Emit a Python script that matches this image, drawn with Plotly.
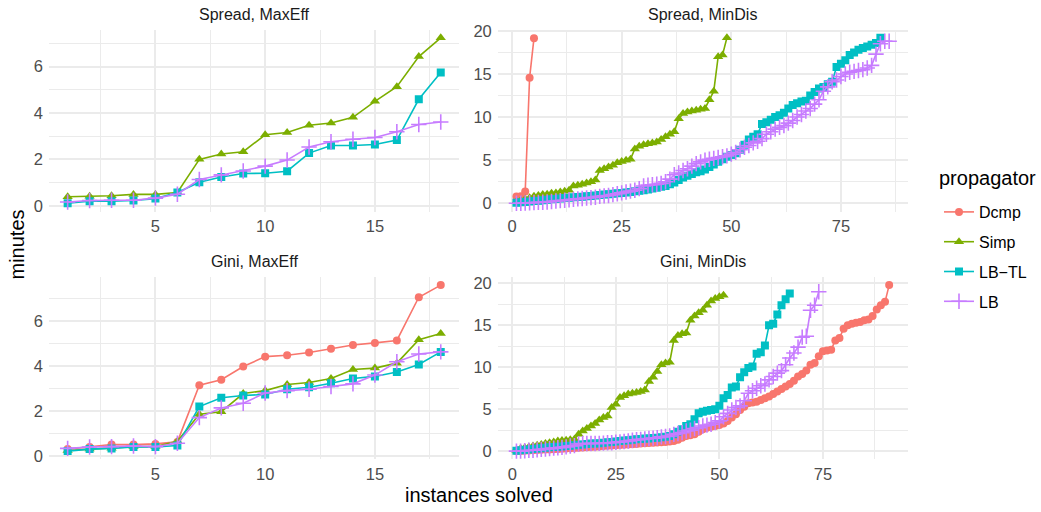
import plotly.graph_objects as go

# ---------------- data ----------------
propagators = ["Dcmp", "Simp", "LB−TL", "LB"]
colors = {"Dcmp": "#F8766D", "Simp": "#7CAE00", "LB−TL": "#00BFC4", "LB": "#C77CFF"}
symbols = {"Dcmp": "circle", "Simp": "triangle-up", "LB−TL": "square", "LB": "cross-thin"}
msizes = {"Dcmp": 8, "Simp": 9, "LB−TL": 8, "LB": 11}

panel_titles = ["Spread, MaxEff", "Spread, MinDis", "Gini, MaxEff", "Gini, MinDis"]

# Spread, MaxEff
spread_maxeff_simp = [0.39, 0.41, 0.43, 0.49, 0.49, 0.57, 2.0, 2.23, 2.33, 3.06, 3.16, 3.47, 3.57, 3.81, 4.5, 5.13, 6.43, 7.24]
spread_maxeff_lbtl = [0.11, 0.2, 0.2, 0.23, 0.31, 0.57, 1.01, 1.24, 1.39, 1.4, 1.49, 2.27, 2.6, 2.6, 2.64, 2.83, 4.59, 5.74]
spread_maxeff_lb = [0.16, 0.23, 0.24, 0.24, 0.33, 0.5, 1.13, 1.33, 1.5, 1.71, 1.97, 2.53, 2.76, 2.87, 2.94, 3.19, 3.5, 3.61]

# Gini, MaxEff
gini_maxeff_dcmp = [0.3, 0.39, 0.5, 0.5, 0.53, 0.62, 3.14, 3.38, 3.97, 4.41, 4.47, 4.59, 4.76, 4.93, 5.02, 5.13, 7.05, 7.59]
gini_maxeff_simp = [0.24, 0.3, 0.34, 0.41, 0.41, 0.65, 1.85, 1.96, 2.77, 2.9, 3.17, 3.26, 3.44, 3.84, 3.9, 4.12, 5.16, 5.44]
gini_maxeff_lbtl = [0.21, 0.3, 0.33, 0.39, 0.39, 0.46, 2.19, 2.58, 2.68, 2.73, 2.96, 3.05, 3.23, 3.44, 3.53, 3.73, 4.06, 4.62]
gini_maxeff_lb = [0.33, 0.39, 0.41, 0.44, 0.41, 0.56, 1.7, 2.13, 2.34, 2.79, 2.9, 2.96, 3.08, 3.2, 3.59, 4.18, 4.53, 4.62]

# Spread, MinDis
spread_mindis_dcmp = [0.77, 0.8, 1.35, 14.55, 19.15]
spread_mindis_simp = [0.2, 0.35, 0.5, 0.65, 0.8, 0.9, 1.0, 1.05, 1.15, 1.2,
                      1.3, 1.4, 1.5, 2.0, 2.1, 2.2, 2.35, 2.5, 2.7, 3.8,
                      4.0, 4.2, 4.4, 4.7, 4.85, 5.0, 5.1, 6.3, 6.6, 6.8,
                      6.9, 7.0, 7.1, 7.4, 7.7, 8.0, 8.3, 9.8, 10.4, 10.6,
                      10.7, 10.8, 10.9, 11.0, 12.0, 13.0, 17.0, 17.2, 19.2]
spread_mindis_lbtl = [0.05, 0.1, 0.15, 0.2, 0.25, 0.3, 0.35, 0.4, 0.45, 0.5,
                      0.55, 0.6, 0.65, 0.7, 0.72, 0.75, 0.8, 0.85, 0.9, 0.95,
                      1.0, 1.05, 1.1, 1.15, 1.2, 1.25, 1.3, 1.4, 1.45, 1.5,
                      1.6, 1.7, 1.8, 1.9, 2.0, 2.2, 2.4, 2.7, 3.0, 3.2,
                      3.4, 3.6, 3.7, 3.9, 4.2, 4.5, 4.8, 5.1, 5.4, 5.6,
                      5.8, 6.2, 6.8, 7.4, 7.7, 8.0, 9.2, 9.4, 9.7, 10.0,
                      10.2, 10.5, 11.0, 11.4, 11.6, 11.8, 11.9, 12.5, 12.9, 13.3,
                      13.5, 13.8, 14.1, 15.8, 16.2, 16.6, 17.2, 17.5, 17.8, 18.0,
                      18.2, 18.4, 18.6, 19.2]
spread_mindis_lb = [0.0, 0.0, 0.02, 0.05, 0.08, 0.1, 0.12, 0.15, 0.2, 0.25,
                    0.3, 0.35, 0.4, 0.45, 0.5, 0.55, 0.6, 0.65, 0.7, 0.8,
                    0.85, 0.9, 1.0, 1.1, 1.2, 1.3, 1.4, 1.5, 1.7, 2.0,
                    2.1, 2.15, 2.2, 2.3, 2.5, 2.8, 3.3, 3.5, 3.8, 4.0,
                    4.3, 4.6, 4.8, 5.0, 5.1, 5.2, 5.3, 5.4, 5.5, 5.7,
                    5.9, 6.2, 6.5, 6.7, 7.0, 7.2, 7.5, 8.0, 8.3, 8.6,
                    8.8, 9.0, 9.3, 9.6, 10.0, 10.3, 10.7, 11.0, 11.5, 12.0,
                    13.0, 13.5, 14.1, 14.3, 14.7, 15.0, 15.2, 15.3, 15.4, 15.5,
                    15.7, 16.0, 17.3, 18.5, 18.8, 18.8]

# Gini, MinDis
gini_mindis_dcmp = [0.0, 0.02, 0.05, 0.07, 0.1, 0.12, 0.15, 0.18, 0.2, 0.22,
                    0.25, 0.28, 0.3, 0.33, 0.36, 0.4, 0.43, 0.46, 0.5, 0.53,
                    0.56, 0.6, 0.63, 0.66, 0.7, 0.73, 0.76, 0.8, 0.83, 0.86,
                    0.9, 0.93, 0.96, 1.0, 1.03, 1.06, 1.1, 1.15, 1.2, 1.35,
                    1.6, 1.8, 1.9, 2.0, 2.3, 2.6, 2.8, 2.9, 3.0, 3.1,
                    3.3, 3.6, 4.0, 4.4, 4.9, 5.3, 5.7, 5.8, 5.9, 6.1,
                    6.3, 6.5, 6.8, 7.1, 7.4, 7.7, 8.0, 8.4, 8.9, 9.2,
                    9.6, 10.3, 10.5, 11.3, 11.9, 12.0, 12.1, 13.2, 13.5, 14.6,
                    15.0, 15.2, 15.3, 15.4, 15.6, 15.7, 16.1, 16.9, 17.4, 17.8,
                    19.8]
gini_mindis_simp = [0.1, 0.3, 0.4, 0.5, 0.6, 0.7, 0.8, 0.9, 1.0, 1.1,
                    1.2, 1.25, 1.3, 1.35, 1.4, 2.0, 2.4, 2.7, 3.0, 3.3,
                    3.7, 4.0, 4.2, 5.2, 5.6, 6.4, 6.6, 6.8, 6.9, 7.0,
                    7.1, 7.3, 8.3, 8.8, 9.5, 10.3, 10.5, 10.6, 13.2, 13.8,
                    14.0, 14.1, 15.6, 16.1, 16.5, 16.8, 17.4, 17.9, 18.2, 18.4,
                    18.6]
gini_mindis_lbtl = [0.05, 0.1, 0.15, 0.2, 0.25, 0.3, 0.35, 0.4, 0.45, 0.5,
                    0.52, 0.55, 0.6, 0.65, 0.7, 0.75, 0.8, 0.85, 0.9, 0.92,
                    0.95, 1.0, 1.05, 1.1, 1.15, 1.2, 1.25, 1.3, 1.35, 1.4,
                    1.45, 1.5, 1.5, 1.55, 1.6, 1.65, 1.7, 1.8, 2.0, 2.3,
                    2.6, 3.0, 3.2, 3.8, 4.5, 4.7, 4.8, 4.9, 5.0, 5.4,
                    6.3, 6.7, 7.6, 7.7, 8.8, 9.4, 9.9, 10.1, 11.6, 11.8,
                    12.6, 15.0, 15.2, 16.3, 17.4, 18.1, 18.8]
gini_mindis_lb = [0.0, 0.0, 0.05, 0.1, 0.1, 0.15, 0.2, 0.25, 0.3, 0.35,
                  0.4, 0.45, 0.5, 0.6, 0.65, 0.85, 0.9, 0.9, 0.9, 0.9,
                  0.92, 0.95, 1.0, 1.0, 1.05, 1.1, 1.15, 1.2, 1.3, 1.35,
                  1.4, 1.45, 1.5, 1.55, 1.6, 1.7, 1.75, 1.8, 2.0, 2.1,
                  2.2, 2.4, 2.5, 2.7, 2.8, 3.0, 3.1, 3.2, 3.4, 3.6,
                  4.1, 4.5, 4.9, 5.2, 5.4, 6.0, 6.9, 7.2, 7.5, 7.8,
                  8.0, 8.5, 8.9, 9.3, 9.6, 10.3, 11.1, 11.7, 12.4, 13.6,
                  13.7, 16.8, 17.4, 19.0]

panels = [
    {"Simp": spread_maxeff_simp, "LB−TL": spread_maxeff_lbtl, "LB": spread_maxeff_lb},
    {"Dcmp": spread_mindis_dcmp, "Simp": spread_mindis_simp, "LB−TL": spread_mindis_lbtl, "LB": spread_mindis_lb},
    {"Dcmp": gini_maxeff_dcmp, "Simp": gini_maxeff_simp, "LB−TL": gini_maxeff_lbtl, "LB": gini_maxeff_lb},
    {"Dcmp": gini_mindis_dcmp, "Simp": gini_mindis_simp, "LB−TL": gini_mindis_lbtl, "LB": gini_mindis_lb},
]

# ---------------- layout geometry (pixels) ----------------
W, H = 1041, 512
col_px = [(49.0, 459.4), (497.8, 907.8)]
row_px = [(29.5, 211.5), (276.8, 459.4)]
x_major = [5, 25, 5, 25]
y_major = [2, 5, 2, 5]

FONT = "Liberation Sans, Arial, sans-serif"
GRID = "#EBEBEB"

fig = go.Figure()

def expand(lo, hi):
    pad = 0.05 * (hi - lo)
    return [lo - pad, hi + pad]

shown = set()
for name in propagators:
    for i, pdata in enumerate(panels):
        if name not in pdata:
            continue
        vals = pdata[name]
        xs = list(range(1, len(vals) + 1))
        sfx = "" if i == 0 else str(i + 1)
        mk = dict(symbol=symbols[name], size=msizes[name], color=colors[name],
                  line=dict(color=colors[name], width=1.6 if name == "LB" else 0))
        fig.add_trace(go.Scatter(
            x=xs, y=vals, mode="lines+markers", name=name,
            line=dict(color=colors[name], width=1.6),
            marker=mk, xaxis="x" + sfx, yaxis="y" + sfx,
            legendgroup=name, showlegend=name not in shown,
        ))
        shown.add(name)

for i, pdata in enumerate(panels):
    r, c = divmod(i, 2)
    sfx = "" if i == 0 else str(i + 1)
    allx = [len(v) for v in pdata.values()]
    ally = [y for v in pdata.values() for y in v]
    xr = expand(1, max(allx))
    yr = expand(min(ally), max(ally))
    x0, x1 = col_px[c]
    y0, y1 = row_px[r]
    common = dict(showline=False, zeroline=False, ticks="", showgrid=True, automargin=False,
                  gridcolor=GRID, gridwidth=1.7,
                  tickfont=dict(family=FONT, size=16.5, color="#4D4D4D"))
    fig.layout["xaxis" + sfx] = dict(
        domain=[x0 / W, x1 / W], range=xr, anchor="y" + sfx,
        tick0=0, dtick=x_major[i],
        minor=dict(tick0=x_major[i] / 2, dtick=x_major[i], showgrid=True, gridcolor=GRID, gridwidth=0.9),
        ticklabelstandoff=3, **common)
    fig.layout["yaxis" + sfx] = dict(
        domain=[1 - y1 / H, 1 - y0 / H], range=yr, anchor="x" + sfx,
        tick0=0, dtick=y_major[i],
        minor=dict(tick0=y_major[i] / 2, dtick=y_major[i], showgrid=True, gridcolor=GRID, gridwidth=0.9),
        ticklabelstandoff=5, **common)
    fig.add_annotation(text=panel_titles[i], x=(x0 + x1) / 2 / W, y=1 - (y0 - 15.5) / H,
                       xref="paper", yref="paper", showarrow=False,
                       xanchor="center", yanchor="middle",
                       font=dict(family=FONT, size=16, color="#1A1A1A"))

fig.add_annotation(text="minutes", x=16 / W, y=1 - 244.5 / H, xref="paper", yref="paper",
                   showarrow=False, textangle=-90, xanchor="center", yanchor="middle",
                   font=dict(family=FONT, size=20, color="#000000"))
fig.add_annotation(text="instances solved", x=478.5 / W, y=1 - 495 / H, xref="paper", yref="paper",
                   showarrow=False, xanchor="center", yanchor="middle",
                   font=dict(family=FONT, size=20, color="#000000"))
fig.add_annotation(text="propagator", x=937 / W, y=1 - 178 / H, xref="paper", yref="paper",
                   showarrow=False, xanchor="left", yanchor="middle",
                   font=dict(family=FONT, size=20, color="#000000"))

fig.update_layout(
    width=W, height=H, autosize=False,
    margin=dict(l=0, r=0, t=0, b=0, autoexpand=False),
    plot_bgcolor="white", paper_bgcolor="white",
    legend=dict(x=939 / W, y=1 - 195 / H, xanchor="left", yanchor="top",
                font=dict(family=FONT, size=16, color="#000000"),
                traceorder="grouped", tracegroupgap=6, bgcolor="rgba(0,0,0,0)"),
)

fig.write_html("out.html", config={"displayModeBar": False},
               post_script="document.body.style.margin='0';document.body.style.overflow='hidden';")
